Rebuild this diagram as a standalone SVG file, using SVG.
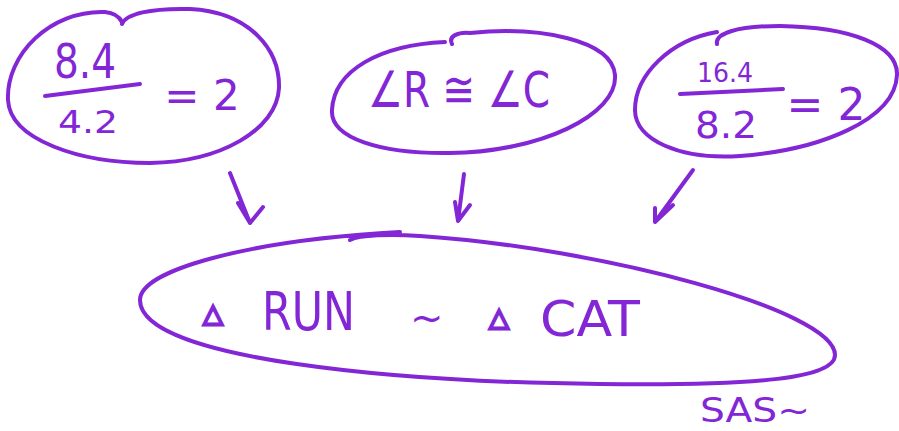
<svg xmlns="http://www.w3.org/2000/svg" width="899" height="431" viewBox="0 0 899 431">
<style>
.ol{fill:none;stroke:#8226d6;stroke-width:4;stroke-linecap:round;stroke-linejoin:round}
.t{fill:#8226d6;font-family:"DejaVu Sans","Liberation Sans",sans-serif}
.tri{fill:#8226d6;stroke:#8226d6;stroke-width:2.5;font-family:"DejaVu Sans",sans-serif;font-weight:bold}
</style>
<rect width="899" height="431" fill="#ffffff"/>
<g id="node-ratio1">
<path class="ol" d="M122,24 C126,14 150,8 190,9 C250,12 280,50 279,88 C277,130 220,162 150,163 C80,163 10,140 8,100 C6,55 50,10 105,12 C115,13 120,18 122,22"/>
<text class="t" x="85" y="78" font-size="48" text-anchor="middle" textLength="62" lengthAdjust="spacingAndGlyphs">8.4</text>
<path class="ol" d="M45,96 L140,84"/>
<text class="t" x="88" y="133" font-size="32" text-anchor="middle" textLength="60" lengthAdjust="spacingAndGlyphs">4.2</text>
<text class="t" x="202" y="110" font-size="42" text-anchor="middle">= 2</text>
</g>
<g id="node-angle">
<path class="ol" d="M452,44 C448,36 458,32 470,33 C540,26 612,40 615,75 C618,115 540,152 450,153 C380,154 330,138 332,110 C334,70 380,45 445,42"/>
<text class="t" x="368" y="107" font-size="50" textLength="182" lengthAdjust="spacingAndGlyphs">∠R ≅ ∠C</text>
</g>
<g id="node-ratio2">
<path class="ol" d="M717,44 C715,34 735,26 780,26 C850,27 898,45 897,75 C895,120 820,150 740,156 C680,160 635,140 635,110 C635,75 670,40 717,32"/>
<text class="t" x="725" y="82" font-size="26" text-anchor="middle" textLength="56" lengthAdjust="spacingAndGlyphs">16.4</text>
<path class="ol" d="M680,94 L783,89"/>
<text class="t" x="726" y="138" font-size="38" text-anchor="middle" textLength="62" lengthAdjust="spacingAndGlyphs">8.2</text>
<text class="t" x="826" y="120" font-size="44" text-anchor="middle">= 2</text>
</g>
<g id="node-similar">
<path class="ol" d="M350,240 C360,235 390,234 420,236 C600,248 835,310 835,355 C835,378 760,386 600,384 C400,382 140,360 140,300 C140,270 250,240 400,232"/>
<text class="tri" x="203" y="322" font-size="26">△</text>
<text class="t" x="262" y="330" font-size="54" textLength="93" lengthAdjust="spacingAndGlyphs">RUN</text>
<text class="t" x="410" y="332" font-size="40">~</text>
<text class="tri" x="489" y="326" font-size="26">△</text>
<text class="t" x="540" y="336" font-size="50" textLength="100" lengthAdjust="spacingAndGlyphs">CAT</text>
</g>
<g id="node-sas">
<text class="t" x="700" y="422" font-size="34" textLength="110" lengthAdjust="spacingAndGlyphs">SAS~</text>
</g>
<g id="connectors">
<path class="ol" d="M230,173 L250,223 M238,203 L250,223 L263,207"/>
<path class="ol" d="M464,174 L458,221 M455,202 L458,221 L470,205"/>
<path class="ol" d="M693,170 L655,222 M655,208 L655,222 L673,205"/>
</g>
</svg>
